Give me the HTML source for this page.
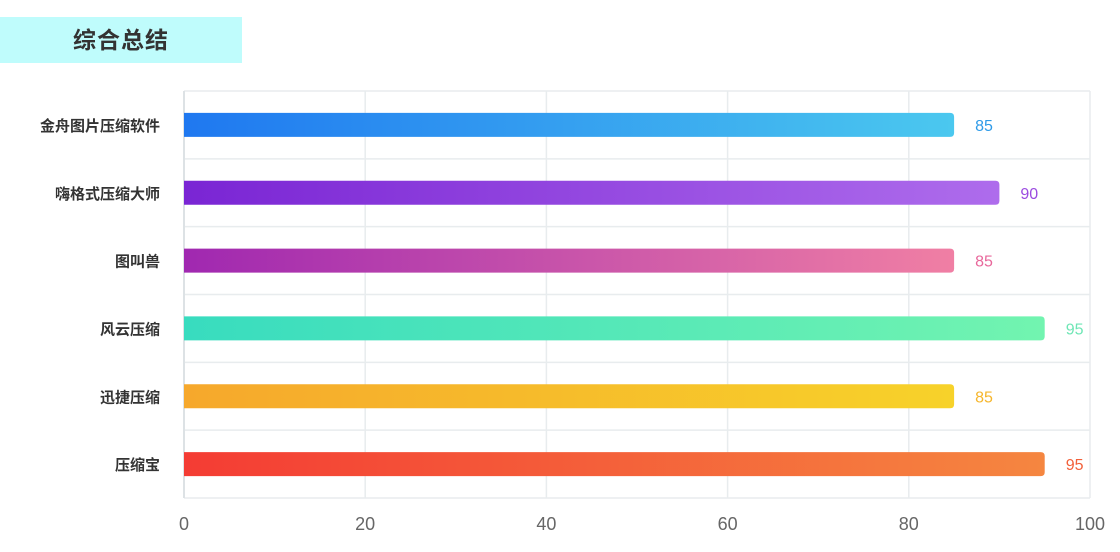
<!DOCTYPE html>
<html><head><meta charset="utf-8"><style>
body{margin:0;width:1120px;height:552px;background:#fff;overflow:hidden;font-family:"Liberation Sans","Noto Sans CJK SC",sans-serif}
#title{position:absolute;left:0;top:17px;width:242px;height:46px;background:#bffcfc;color:#333;font-weight:bold;font-size:23px;line-height:46px;text-align:center;letter-spacing:1px}
svg{position:absolute;left:0;top:0}
</style></head><body>
<div id="title">综合总结</div>
<svg id="chart" width="1120" height="552"></svg>
<script>
const categories=["金舟图片压缩软件","嗨格式压缩大师","图叫兽","风云压缩","迅捷压缩","压缩宝"];
const values=[85,90,85,95,85,95];
const ticks=[0,20,40,60,80,100];
const startColors=["#1f78f0","#7a25d4","#a028b0","#38dcbf","#f6a82c","#f43c34"];
const endColors=["#4bc8ef","#ae6cec","#f07fa4","#72f4b0","#f7d22a","#f58640"];
const labelColors=["#2f9be8","#9b4be0","#e8679b","#6ee6b5","#f6b62c","#f2603a"];
const NS="http://www.w3.org/2000/svg";
const svg=document.getElementById('chart');
const L=184,R=1090,T=91,B=498,maxV=100;
const x=v=>L+(R-L)*v/maxV;
const rowH=(B-T)/categories.length;
const yc=i=>T+rowH*(i+0.5);
function mk(t,a){const e=document.createElementNS(NS,t);for(const k in a)e.setAttribute(k,a[k]);svg.appendChild(e);return e;}
const defs=mk('defs',{});
// grid
ticks.forEach(t=>{const l=mk('line',{x1:x(t),x2:x(t),y1:T,y2:B,stroke:'#e8ecee','stroke-width':1.5});


const tx=mk('text',{x:x(t),y:530,'text-anchor':'middle','font-size':18,fill:'#666'});tx.textContent=t;

});
for(let i=0;i<=categories.length;i++){const l=mk('line',{x1:L,x2:R,y1:T+rowH*i,y2:T+rowH*i,stroke:'#e8ecee','stroke-width':1.5});

}
const ax=mk('line',{x1:L,x2:L,y1:T,y2:B,stroke:'#dde2e5','stroke-width':2});


categories.forEach((c,i)=>{
 const g=document.createElementNS(NS,'linearGradient');g.setAttribute('id','g'+i);
 g.innerHTML=`<stop offset="0" stop-color="${startColors[i]}"/><stop offset="1" stop-color="${endColors[i]}"/>`;defs.appendChild(g);
 const y=yc(i),h=24,w=x(values[i])-L,r=4;
 const p=mk('path',{d:`M${L},${y-h/2}H${L+w-r}Q${L+w},${y-h/2} ${L+w},${y-h/2+r}V${y+h/2-r}Q${L+w},${y+h/2} ${L+w-r},${y+h/2}H${L}Z`,fill:`url(#g${i})`});
 
 
 const v=mk('text',{x:x(values[i])+21,y:y+6,'font-size':16,fill:labelColors[i]});v.textContent=values[i];
 
 
 const cl=mk('text',{x:160,y:y+6,'text-anchor':'end','font-size':15,'font-weight':'bold',fill:'#333'});cl.textContent=c;
 
 
});
</script>
</body></html>
